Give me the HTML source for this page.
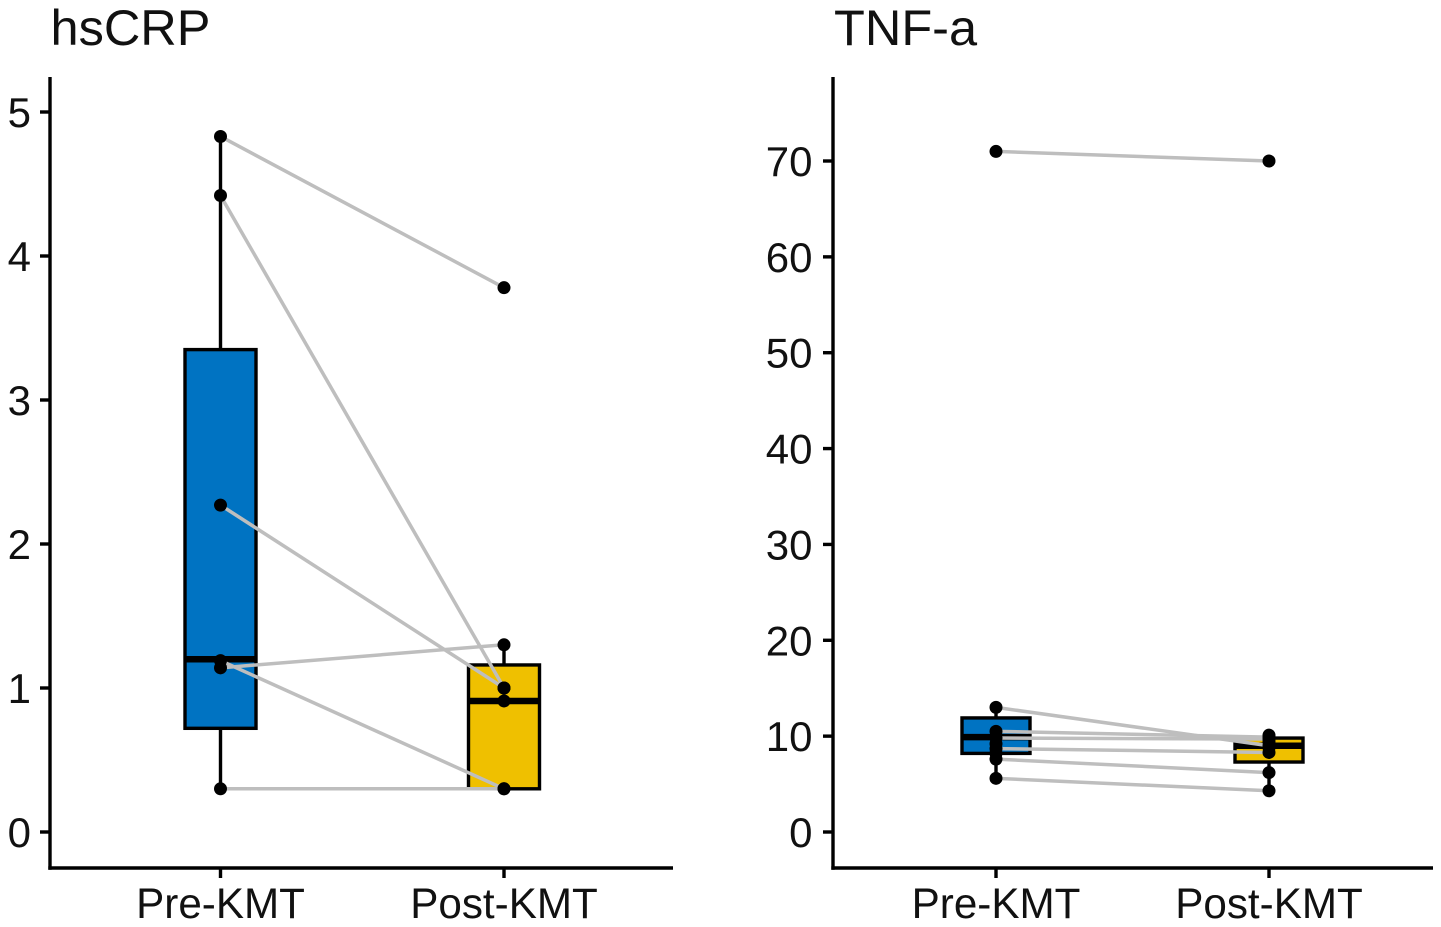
<!DOCTYPE html>
<html lang="en">
<head>
<meta charset="utf-8">
<title>hsCRP and TNF-a, Pre-KMT vs Post-KMT</title>
<style>
  html, body { margin: 0; padding: 0; background: #fff; }
  svg { display: block; font-family: "Liberation Sans", Arial, sans-serif; }
</style>
</head>
<body>
<svg id="chart" xmlns="http://www.w3.org/2000/svg" width="1441" height="927" viewBox="0 0 1441 927"></svg>
<script>
const groupLabels = ['Pre-KMT', 'Post-KMT'];

const hsCrpTitle = 'hsCRP';
const hsCrpTicks = [0, 1, 2, 3, 4, 5];
const hsCrpPre = [4.83, 4.42, 2.27, 1.19, 1.14, 0.30];
const hsCrpPost = [3.78, 1.00, 1.00, 0.30, 1.30, 0.30];
const hsCrpPreUnpaired = [];
const hsCrpPostUnpaired = [0.91];
const hsCrpQ1 = [0.72, 0.30];
const hsCrpMedian = [1.20, 0.91];
const hsCrpQ3 = [3.35, 1.16];
const hsCrpWhiskerLow = [0.30, 0.30];
const hsCrpWhiskerHigh = [4.83, 1.30];

const tnfTitle = 'TNF-a';
const tnfTicks = [0, 10, 20, 30, 40, 50, 60, 70];
const tnfPre = [71.0, 13.0, 10.5, 9.8, 8.7, 7.6, 5.6];
const tnfPost = [70.0, 9.0, 9.9, 9.7, 8.3, 6.2, 4.3];
const tnfPreUnpaired = [9.2, 8.2];
const tnfPostUnpaired = [10.1, 9.4, 8.8];
const tnfQ1 = [8.2, 7.3];
const tnfMedian = [9.9, 9.0];
const tnfQ3 = [11.9, 9.8];
const tnfWhiskerLow = [5.6, 4.3];
const tnfWhiskerHigh = [13.0, 10.1];

const NS = 'http://www.w3.org/2000/svg';
const root = document.getElementById('chart');

function make(tag, parent, attrs, text) {
  const el = document.createElementNS(NS, tag);
  for (const k in attrs) el.setAttribute(k, attrs[k]);
  if (text !== undefined) el.textContent = text;
  parent.appendChild(el);
  return el;
}

function linear(d0, d1, r0, r1) {
  return v => r0 + (v - d0) * (r1 - r0) / (d1 - d0);
}

function drawPanel(p) {
  const y = linear(p.ticks[0], p.ticks[p.ticks.length - 1], p.y0, p.yTop);
  const x = i => p.xs[i];

  const g = make('g', root, {});
  
  

  const title = make('text', g, { x: p.titleX, y: 45, 'font-size': 50.5, fill: '#111' }, p.title);
  
  

  const yAxis = make('line', g, { x1: p.axisX, x2: p.axisX, y1: 77, y2: 869.7, stroke: '#000', 'stroke-width': 3.4 });
  
  

  const xAxis = make('line', g, { x1: p.axisX - 1.7, x2: p.axisEnd, y1: 868, y2: 868, stroke: '#000', 'stroke-width': 3.4 });
  
  

  p.ticks.forEach(t => {
    const tick = make('line', g, { x1: p.axisX - 10, x2: p.axisX, y1: y(t), y2: y(t), stroke: '#000', 'stroke-width': 3.4 });
    
    
    const label = make('text', g, { x: p.axisX - p.labelGap, y: y(t) + 15, 'font-size': 42, 'text-anchor': 'end', fill: '#111' }, t);
    
    
  });

  groupLabels.forEach((name, i) => {
    const tick = make('line', g, { x1: x(i), x2: x(i), y1: 868, y2: 878, stroke: '#000', 'stroke-width': 3.4 });
    
    
    const label = make('text', g, { x: x(i), y: 918, 'font-size': 42.2, 'text-anchor': 'middle', fill: '#111' }, name);
    
    

    const whisker = make('line', g, { x1: x(i), x2: x(i), y1: y(p.whiskerHigh[i]), y2: y(p.whiskerLow[i]), stroke: '#000', 'stroke-width': 3.4 });
    
    

    const box = make('rect', g, {
      x: x(i) - p.boxHalf,
      y: y(p.q3[i]),
      width: p.boxHalf * 2,
      height: y(p.q1[i]) - y(p.q3[i]),
      fill: p.colors[i],
      stroke: '#000',
      'stroke-width': 3.4
    });
    
    

    const median = make('line', g, { x1: x(i) - p.boxHalf, x2: x(i) + p.boxHalf, y1: y(p.median[i]), y2: y(p.median[i]), stroke: '#000', 'stroke-width': 6.5 });
    
    
  });

  p.pre.forEach((v, i) => {
    const link = make('line', g, { x1: x(0), x2: x(1), y1: y(v), y2: y(p.post[i]), stroke: '#bebebe', 'stroke-width': 3.5 });
    
    
  });

  [p.pre.concat(p.preUnpaired), p.post.concat(p.postUnpaired)].forEach((series, s) => {
    series.forEach(v => {
      const dot = make('circle', g, { cx: x(s), cy: y(v), r: 6.5, fill: '#000' });
      
      
    });
  });
}

drawPanel({
  name: 'hscrp', title: hsCrpTitle, ticks: hsCrpTicks,
  pre: hsCrpPre, post: hsCrpPost, preUnpaired: hsCrpPreUnpaired, postUnpaired: hsCrpPostUnpaired,
  q1: hsCrpQ1, median: hsCrpMedian, q3: hsCrpQ3,
  whiskerLow: hsCrpWhiskerLow, whiskerHigh: hsCrpWhiskerHigh,
  y0: 832, yTop: 112, xs: [220.5, 504], boxHalf: 35.5,
  axisX: 50, axisEnd: 673, titleX: 50.5, labelGap: 19, colors: ['#0073C2', '#EFC000']
});

drawPanel({
  name: 'tnf-a', title: tnfTitle, ticks: tnfTicks,
  pre: tnfPre, post: tnfPost, preUnpaired: tnfPreUnpaired, postUnpaired: tnfPostUnpaired,
  q1: tnfQ1, median: tnfMedian, q3: tnfQ3,
  whiskerLow: tnfWhiskerLow, whiskerHigh: tnfWhiskerHigh,
  y0: 832, yTop: 161, xs: [996, 1269], boxHalf: 34,
  axisX: 833, axisEnd: 1433, titleX: 834, labelGap: 20.5, colors: ['#0073C2', '#EFC000']
});
</script>
</body>
</html>
